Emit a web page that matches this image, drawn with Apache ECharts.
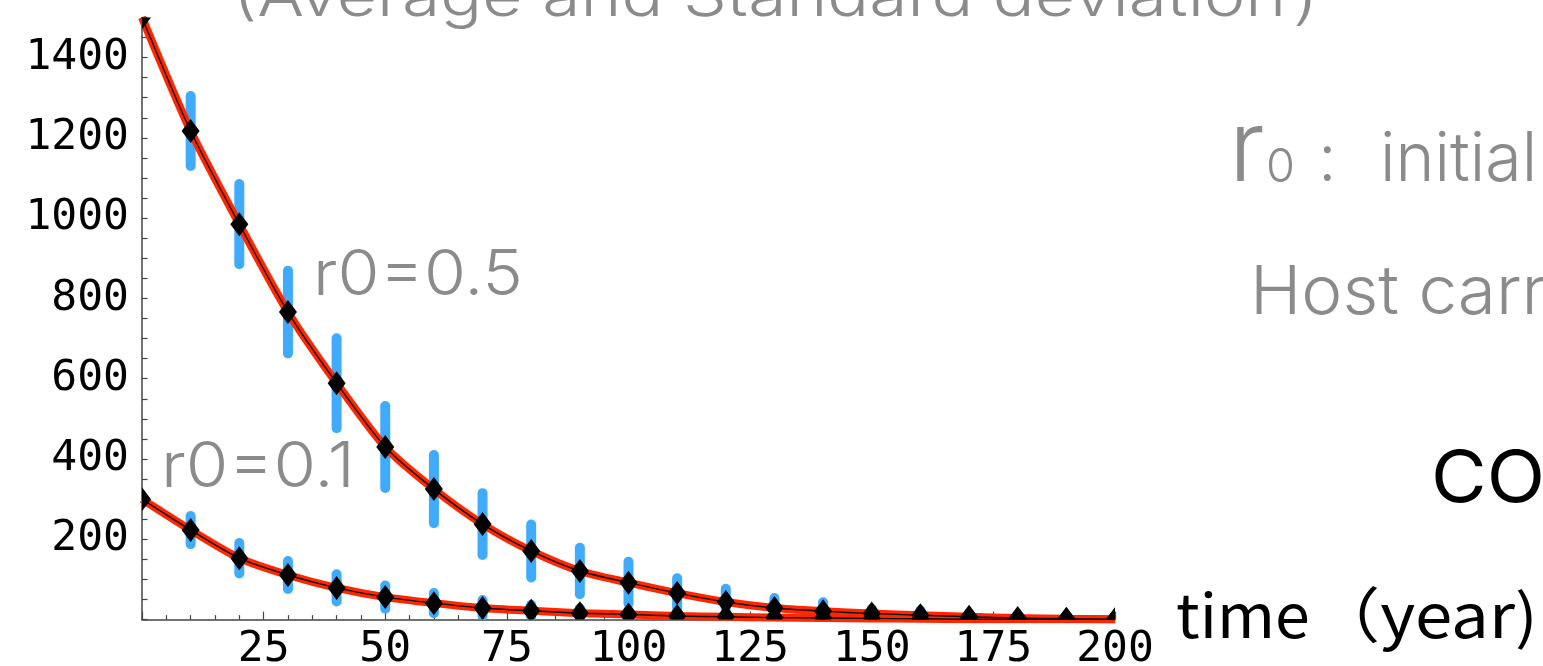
<!DOCTYPE html>
<html><head><meta charset="utf-8">
<script src="https://cdn.jsdelivr.net/npm/echarts@6/dist/echarts.min.js"></script>
<style>html,body{margin:0;padding:0;background:#fff;overflow:hidden}#c{width:1543px;height:666px}</style>
</head><body><div id="c"></div>
<script>
// ---- data ----
const times   = [0,10,20,30,40,50,60,70,80,90,100,110,120,130,140,150,160,170,180,190,200];
const meanR05 = [1500,1217,985,766,589,430,325,238,171,121,92,66,44,29,21,15,11,7,4,2,1];
const sdR05   = [0,87,100,103,112,102,85,77,66,58,52,37,33,25,22,12,12,8,5,3,2];
const meanR01 = [300,223,153,111,79,56,41,29,22,16,13,9,7,5,4,3,2,1,1,1,0];
const sdR01   = [0,35,38,35,34,29,25,20,15,12,10,8,6,5,4,3,2,2,1,1,1];
const xTickLabels = [25,50,75,100,125,150,175,200];
const yTickLabels = [200,400,600,800,1000,1200,1400];
const seriesNames = ['r0=0.5','r0=0.1'];

const chart = echarts.init(document.getElementById('c'), null, {renderer:'canvas'});

const GRAY = '#8b8b8b';
const BLUE = '#41abfb';
const RED = '#ff2600';

function errData(mean, sd){ return times.map((t,i)=>[t, mean[i], sd[i]]); }
function ptData(mean){ return times.map((t,i)=>[t, mean[i]]); }

function errRender(params, api){
  const x = api.value(0), m = api.value(1), s = api.value(2);
  if (!s) return null;
  const p1 = api.coord([x, m + s]);
  const p2 = api.coord([x, m - s]);
  return {type:'line', shape:{x1:p1[0], y1:p1[1], x2:p2[0], y2:p2[1]},
          style:{stroke:BLUE, lineWidth:10, lineCap:'round'}};
}
function diamondRender(params, api){
  const c = api.coord([api.value(0), api.value(1)]);
  const w = 9, h = 12;
  return {type:'polygon', shape:{points:[[c[0],c[1]-h],[c[0]+w,c[1]],[c[0],c[1]+h],[c[0]-w,c[1]]]},
          style:{fill:'#000'}};
}

const series = [];
[[meanR05, sdR05],[meanR01, sdR01]].forEach(([m, s], k)=>{
  series.push({name:seriesNames[k]+' sd', type:'custom', renderItem:errRender, data:errData(m,s), clip:true, z:1,
    encode:{x:0, y:1}, silent:true});
});
[meanR05, meanR01].forEach((m,k)=>{
  series.push({name:seriesNames[k]+' red', type:'line', data:ptData(m), smooth:0.25, showSymbol:false, symbol:'none',
    lineStyle:{color:RED, width:8}, z:2, clip:true, silent:true});
  series.push({name:seriesNames[k]+' blk', type:'line', data:ptData(m), smooth:0.25, showSymbol:false, symbol:'none',
    lineStyle:{color:'#111', width:1.4}, z:3, clip:true, silent:true});
  series.push({name:seriesNames[k], type:'custom', renderItem:diamondRender, data:ptData(m), clip:true, z:4,
    encode:{x:0, y:1}, silent:true});
});

const axisColor = '#444';
const labelFont = 'DejaVu Sans Mono';

chart.setOption({
  animation:false,
  backgroundColor:'#fff',
  grid:{left:142, right:428, top:17.4, bottom:46.4, containLabel:false, outerBoundsMode:'none'},
  xAxis:{type:'value', min:0, max:200, interval:25,
    axisLine:{lineStyle:{color:axisColor, width:1.5}},
    axisTick:{inside:true, length:8, lineStyle:{color:axisColor, width:1.2}},
    minorTick:{show:true, splitNumber:5, length:4.5, lineStyle:{color:axisColor, width:1.2}},
    splitLine:{show:false}, minorSplitLine:{show:false},
    axisLabel:{color:'#000', fontFamily:labelFont, fontSize:43, margin:9,
      formatter:v=> xTickLabels.includes(v) ? String(v) : ''}},
  yAxis:{type:'value', min:0, max:1500, interval:50,
    axisLine:{show:true, lineStyle:{color:axisColor, width:1.5}},
    axisTick:{show:true, inside:true, length:5.5, lineStyle:{color:axisColor, width:1.2}},
    splitLine:{show:false},
    axisLabel:{color:'#000', fontFamily:labelFont, fontSize:43, margin:13,
      formatter:v=> yTickLabels.includes(v) ? String(v) : ''}},
  series:series,
  graphic:[
    {type:'text', x:233, y:-2, scaleX:1.18, style:{text:'(Average and Standard deviation\uFF09', font:'300 59px Inter', fill:GRAY, verticalAlign:'middle'}},
    {type:'text', x:313, y:276, scaleX:1.08, style:{text:'r0=0.5', font:'300 63px Inter', fill:GRAY, verticalAlign:'middle'}},
    {type:'text', x:161, y:468, scaleX:1.095, style:{text:'r0=0.1', font:'300 63px Inter', fill:GRAY, verticalAlign:'middle'}},
    {type:'text', x:1229, y:151, style:{text:'r', font:'300 99px Inter', fill:GRAY, verticalAlign:'middle'}},
    {type:'text', x:1266, y:168, style:{text:'0', font:'300 47px Inter', fill:GRAY, verticalAlign:'middle'}},
    {type:'text', x:1318, y:161, style:{text:':', font:'300 66px Inter', fill:GRAY, verticalAlign:'middle'}},
    {type:'text', x:1380, y:161, scaleX:0.975, style:{text:'initial', font:'300 68px Inter', fill:GRAY, verticalAlign:'middle'}},
    {type:'text', x:1250, y:294, scaleX:1.035, style:{text:'Host carr', font:'300 67px Inter', fill:GRAY, verticalAlign:'middle'}},
    {type:'text', x:1431, y:480, scaleX:1.06, style:{text:'CO', font:'400 72px Inter', fill:'#000', verticalAlign:'middle'}},
    {type:'text', x:1176, y:615, scaleX:1.045, style:{text:'time', font:'400 60px "Noto Sans CJK JP"', fill:'#000', verticalAlign:'middle'}},
    {type:'text', x:1313, y:615, scaleX:1.12, style:{text:'\uFF08year)', font:'400 60px "Noto Sans CJK JP"', fill:'#000', verticalAlign:'middle'}}
  ]
});
</script>
</body></html>
